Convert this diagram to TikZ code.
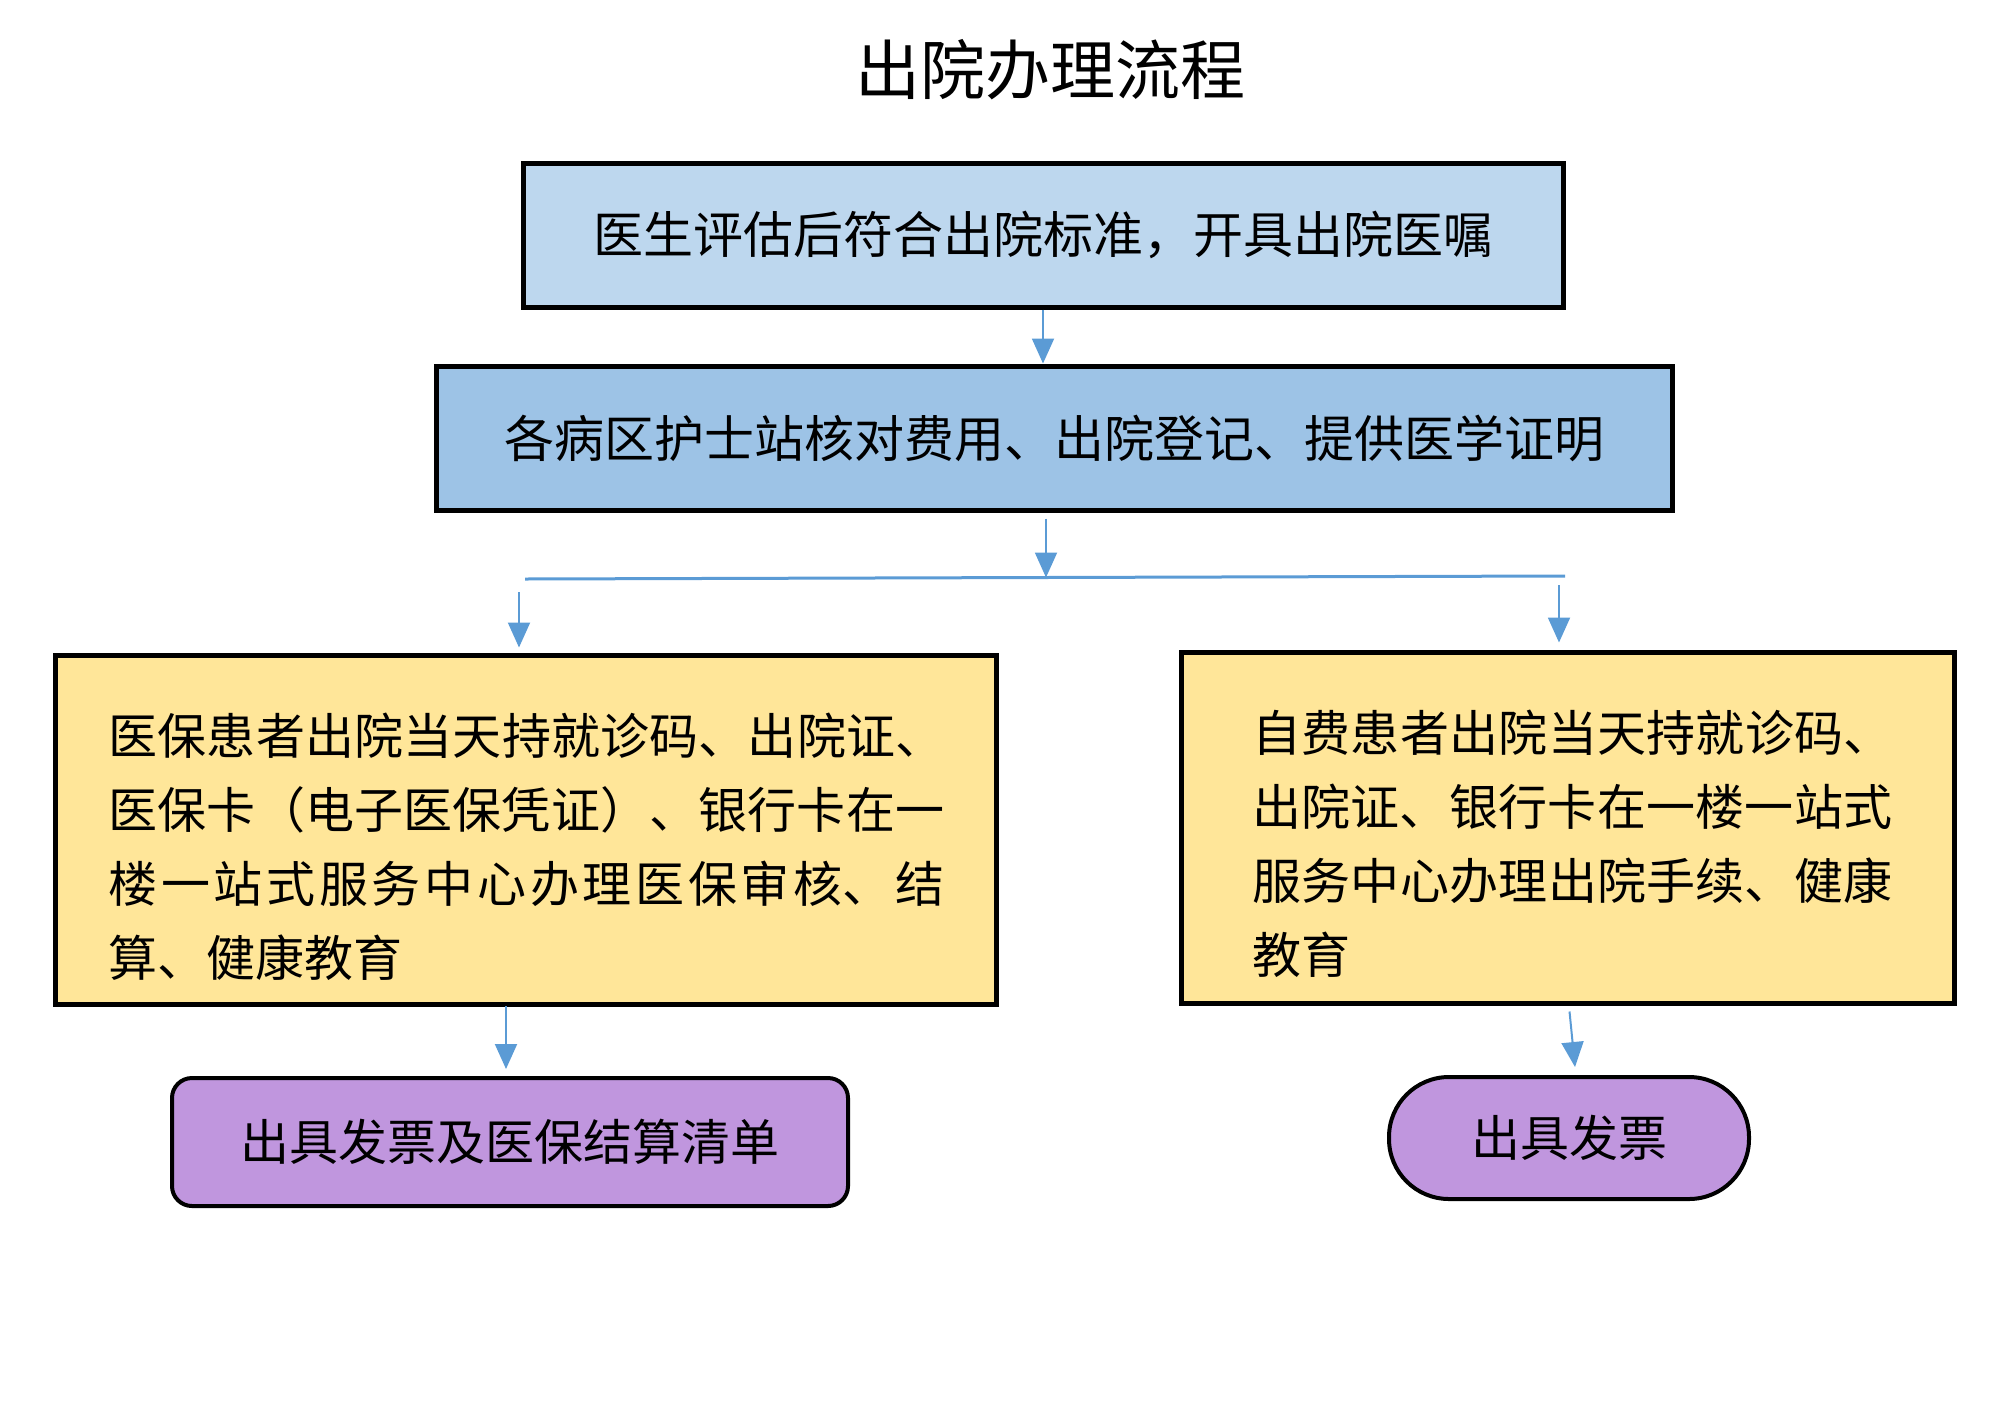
\documentclass[tikz,border=0pt]{standalone}
\usepackage{fontspec}
\newfontfamily\songti{Noto Sans CJK SC}
\newfontfamily\heiti{Noto Sans CJK SC}
\XeTeXlinebreaklocale "zh"
\XeTeXlinebreakskip = 0pt plus 1pt
\usetikzlibrary{positioning, calc, arrows.meta}

\definecolor{lightblue}{HTML}{BDD7EE}
\definecolor{midblue}{HTML}{9DC3E6}
\definecolor{paleyellow}{HTML}{FFE699}
\definecolor{lilac}{HTML}{C096DE}
\definecolor{arrowblue}{HTML}{5B9BD5}

\begin{document}
\begin{tikzpicture}[x=0.5pt, y=-0.5pt,
	stepbox/.style={draw=black, line width=2.5pt, rectangle, inner sep=0pt,
	                font=\songti\fontsize{25}{30}\selectfont},
	notebox/.style={draw=black, line width=2.5pt, fill=paleyellow, rectangle, inner sep=0pt},
	para/.style={anchor=west, align=justify, inner sep=0pt,
	             font=\songti\fontsize{24.5}{37}\selectfont},
	endbox/.style={draw=black, line width=2pt, fill=lilac, inner sep=0pt,
	               font=\songti\fontsize{24.5}{30}\selectfont},
	flow/.style={draw=arrowblue, line width=1pt, -{Triangle[length=12.5pt, width=11pt]}}]
	\useasboundingbox (0,0) rectangle (2000,1408);

	% title
	\node[font=\heiti\fontsize{32.5}{36}\selectfont] (title) at (1050,70) {出院办理流程};

	% upper steps
	\node[stepbox, fill=lightblue, minimum width=520pt, minimum height=72pt] (order) at (1043,235)
	     {医生评估后符合出院标准，开具出院医嘱};
	\node[stepbox, fill=midblue, minimum width=618pt, minimum height=72pt] (nurse) at (1054,438)
	     {各病区护士站核对费用、出院登记、提供医学证明};

	% split
	\coordinate (splitL) at (525,579);
	\coordinate (splitR) at (1565,576);
	\coordinate (splitM) at (1046,577.5);
	\coordinate (brL) at (519,592);
	\coordinate (brR) at (1559,585);
	\coordinate (dropL) at (506,1006);

	% the two branches
	\node[notebox, minimum width=470.5pt, minimum height=174.5pt] (medbox) at (525.5,829.5) {};
	\node[para, text width=418pt] (medtext) at (108,847)
	     {医保患者出院当天持就诊码、出院证、\linebreak
	      医保卡（电子医保凭证）、银行卡在一\linebreak
	      楼一站式服务中心办理医保审核、结\linebreak
	      算、健康教育};
	\node[notebox, minimum width=386.5pt, minimum height=175.5pt] (selfbox) at (1567.5,827.5) {};
	\node[para, text width=320pt] (selftext) at (1252,844)
	     {自费患者出院当天持就诊码、\linebreak
	      出院证、银行卡在一楼一站式\linebreak
	      服务中心办理出院手续、健康\linebreak
	      教育};

	% results
	\node[endbox, rounded corners=10pt, minimum width=338pt, minimum height=64pt] (medbill) at (510,1142)
	     {出具发票及医保结算清单};
	\node[endbox, rounded corners=30pt, minimum width=180pt, minimum height=61pt] (selfbill) at (1569,1138)
	     {出具发票};

	% connectors
	\draw[flow] (order.south) -- (order.south |- nurse.north);
	\draw[flow] ([yshift=-3pt]nurse.south -| splitM) -- (splitM);
	\draw[draw=arrowblue, line width=1.5pt] (splitL) -- (splitR);
	\draw[flow] (brL) -- ([yshift=2.5pt]medbox.north -| brL);
	\draw[flow] (brR) -- ([yshift=3.5pt]selfbox.north -| brR);
	\draw[flow] (dropL) -- ([yshift=3.5pt]medbill.north -| dropL);
	\draw[flow] ([xshift=1pt, yshift=-3pt]selfbox.south) -- ([xshift=3pt, yshift=4pt]selfbill.north);
\end{tikzpicture}
\end{document}
